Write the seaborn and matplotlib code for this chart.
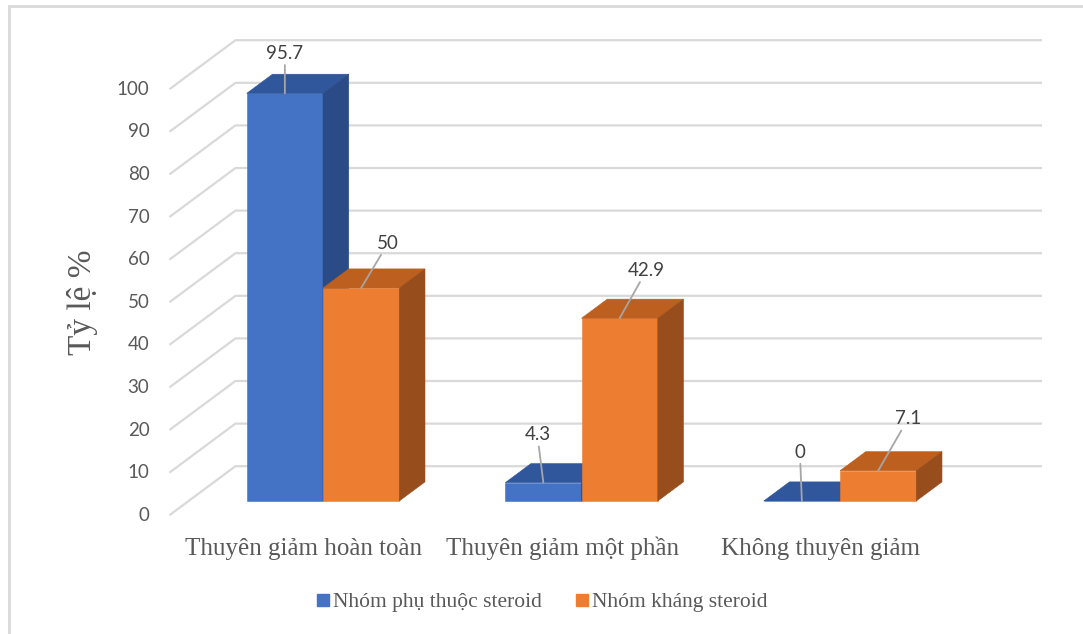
import matplotlib
matplotlib.use("Agg")
import matplotlib.pyplot as plt
from matplotlib.patches import Polygon, Rectangle
from matplotlib.lines import Line2D
from matplotlib.colors import to_rgba
import pandas as pd
import seaborn as sns

# ---- data ----
categories = ["Thuyên giảm hoàn toàn", "Thuyên giảm một phần", "Không thuyên giảm"]
groups = ["Nhóm phụ thuộc steroid", "Nhóm kháng steroid"]
dependent = [95.7, 4.3, 0.0]
resistant = [50.0, 42.9, 7.1]
y_ticks = [0, 10, 20, 30, 40, 50, 60, 70, 80, 90, 100]
y_label = "Tỷ lệ %"

# ---- styling ----
front_colors = ["#4472C4", "#ED7D31"]
top_colors = ["#30569C", "#BD601F"]
side_colors = ["#2B4B86", "#984D1C"]
grid_color = "#D9D9D9"
text_color = "#595959"
label_color = "#404040"
leader_color = "#A6A6A6"
sans = ["Lato", "DejaVu Sans"]
serif = ["Liberation Serif", "DejaVu Serif"]

W, H = 1083, 634
sns.set_theme(style="white")
fig = plt.figure(figsize=(W / 100, H / 100), dpi=100)
ax = fig.add_axes([0, 0, 1, 1])

# pixel scale of the drawing: one category step and one percent
PX_X, PX_Y = 258.5, 4.26
ORIGIN = (323, 501)

# oblique depth of the floor and of each bar (fractions of full depth)
DEPTH_X, DEPTH_Y = 66 / PX_X, 49 / PX_Y
BAR_FRONT, BAR_DEPTH = 0.29, 0.39
FLOOR_LEFT, FLOOR_RIGHT = -0.52, 2.60


def shift(frac):
    return (frac - BAR_FRONT) * DEPTH_X, (frac - BAR_FRONT) * DEPTH_Y


# ---- front faces through seaborn ----
df = pd.DataFrame({
    "category": categories * 2,
    "group": [groups[0]] * len(categories) + [groups[1]] * len(categories),
    "value": dependent + resistant,
})
sns.barplot(data=df, x="category", y="value", hue="group", hue_order=groups,
            palette=front_colors, saturation=1, width=0.59, gap=0,
            legend=False, linewidth=0, ax=ax)

# ---- back wall / floor gridlines ----
fx0, fy0 = shift(0.0)
bx, by = shift(1.0)
for v in y_ticks:
    ax.plot([FLOOR_LEFT + fx0, FLOOR_LEFT + bx, FLOOR_RIGHT + bx],
            [v + fy0, v + by, v + by], color=grid_color, lw=1.6,
            solid_capstyle="butt", zorder=1)
    ax.annotate(f"{v}", xy=(FLOOR_LEFT + fx0, v + fy0), xytext=(-20, 0),
                textcoords="offset pixels", ha="right", va="center",
                fontsize=13.5, family=sans, color=text_color)

# ---- top and side faces of the bars ----
ox, oy = BAR_DEPTH * DEPTH_X, BAR_DEPTH * DEPTH_Y
bars = []
for p in list(ax.patches):
    g = 0 if to_rgba(p.get_facecolor()) == to_rgba(front_colors[0]) else 1
    x0, w, v = p.get_x(), p.get_width(), p.get_height()
    z = 3 + 2 * g
    p.set_zorder(z)
    p.set_edgecolor(front_colors[g])
    p.set_linewidth(0.4)
    top = [(x0, v), (x0 + w, v), (x0 + w + ox, v + oy), (x0 + ox, v + oy)]
    side = [(x0 + w, 0), (x0 + w, v), (x0 + w + ox, v + oy), (x0 + w + ox, oy)]
    ax.add_patch(Polygon(top, closed=True, facecolor=top_colors[g],
                         edgecolor=top_colors[g], lw=0.4, zorder=z))
    ax.add_patch(Polygon(side, closed=True, facecolor=side_colors[g],
                         edgecolor=side_colors[g], lw=0.4, zorder=z))
    bars.append((g, x0 + w / 2, v))

# ---- value labels with leader lines ----
label_offsets = [
    [(0, 40), (-6, 48), (-2, 49)],
    [(27, 45), (27, 48), (30, 52)],
]
bars.sort(key=lambda b: (b[0], b[1]))
for idx, (g, xc, v) in enumerate(bars):
    dx, dy = label_offsets[g][idx % len(categories)]
    ax.annotate(f"{v:g}", xy=(xc, v), xytext=(dx, dy),
                textcoords="offset pixels", ha="center", va="center",
                fontsize=13.5, family=sans, color=label_color, zorder=9,
                arrowprops=dict(arrowstyle="-", color=leader_color, lw=1.3,
                                shrinkA=0, shrinkB=0))

# ---- category labels below the floor ----
cat_baseline = (ORIGIN[1] - 555) / PX_Y
for i, cat in enumerate(categories):
    ax.text(i + fx0, cat_baseline, cat, ha="center", va="baseline",
            fontsize=18, family=serif, color=text_color)

ax.set_xlim(-ORIGIN[0] / PX_X, (W - ORIGIN[0]) / PX_X)
ax.set_ylim(-(H - ORIGIN[1]) / PX_Y, ORIGIN[1] / PX_Y)
ax.set_axis_off()

# ---- axis title ----
fig.text(82 / W, 1 - 302 / H, y_label, rotation=90, ha="center", va="center",
         fontsize=24, family=serif, color=text_color)

# ---- legend ----
handles = [Line2D([], [], marker="s", linestyle="none", markersize=9,
                  markerfacecolor=c, markeredgecolor=c) for c in front_colors]
fig.legend(handles, groups, loc="center", bbox_to_anchor=(542 / W, 1 - 602 / H),
           ncol=2, frameon=False, handlelength=0.6, handletextpad=0.15,
           columnspacing=1.6, prop={"family": serif, "size": 15.5},
           labelcolor=text_color)

# ---- chart border ----
fig.add_artist(Rectangle((9 / W, -0.05), 1.1, 1.05 - 6 / H, transform=fig.transFigure,
                         fill=False, edgecolor=grid_color, lw=2, zorder=0))

fig.savefig("out.png", dpi=100, facecolor="white")
